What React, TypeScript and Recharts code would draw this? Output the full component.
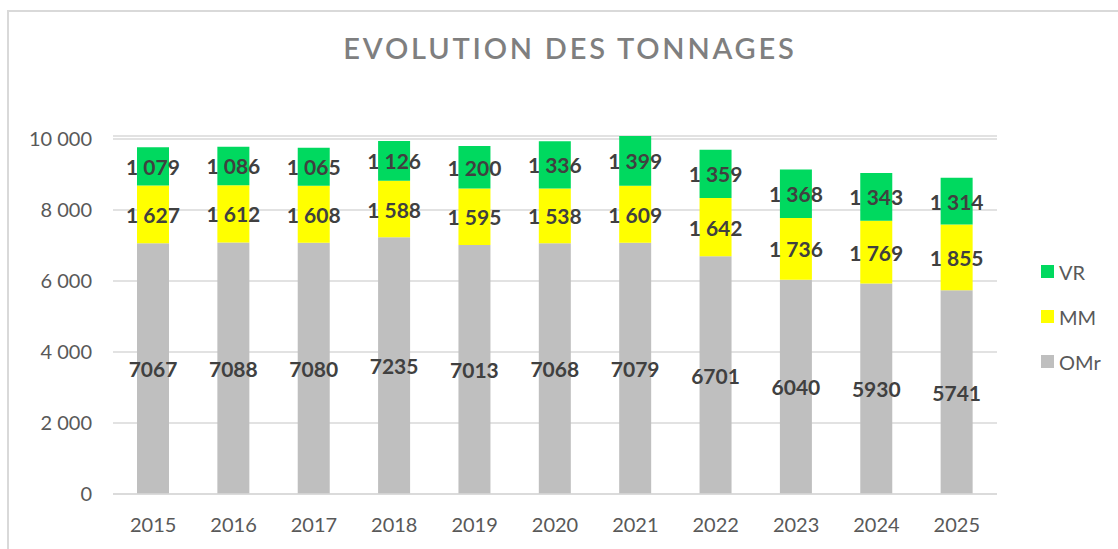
import { BarChart, Bar, XAxis, YAxis, CartesianGrid, LabelList } from "recharts";

const years = ["2015", "2016", "2017", "2018", "2019", "2020", "2021", "2022", "2023", "2024", "2025"];
const omrValues = [7067, 7088, 7080, 7235, 7013, 7068, 7079, 6701, 6040, 5930, 5741];
const mmValues = [1627, 1612, 1608, 1588, 1595, 1538, 1609, 1642, 1736, 1769, 1855];
const vrValues = [1079, 1086, 1065, 1126, 1200, 1336, 1399, 1359, 1368, 1343, 1314];
const yTicks = [0, 2000, 4000, 6000, 8000, 10000];

const data = years.map((year, i) => ({
  year,
  OMr: omrValues[i],
  MM: mmValues[i],
  VR: vrValues[i],
}));

// legend order, top to bottom
const legendItems = [
  { name: "VR", color: "#00d95f" },
  { name: "MM", color: "#ffff00" },
  { name: "OMr", color: "#bfbfbf" },
];

const FONT = "Lato, 'Noto Sans', sans-serif";

// excel style thousands: "10 000"
const spaced = (v: any) => String(v).replace(/\B(?=(\d{3})+(?!\d))/g, " ");

const makeLabel = (withSpace: boolean) => (props: any) => {
  const { x, y, width, height, value } = props;
  return (
    <text
      x={x + width / 2}
      y={y + height / 2}
      textAnchor="middle"
      dominantBaseline="central"
      fontFamily={FONT}
      fontSize={21}
      fontWeight={700}
      fill="#404040"
    >
      {withSpace ? spaced(value) : value}
    </text>
  );
};

export default function App() {
  return (
    <div style={{ position: "absolute", left: 0, top: 0, width: 1118, height: 549, overflow: "hidden", background: "#fff" }}>
      <div style={{ position: "absolute", left: 8, top: 10, width: 1110, height: 2, background: "#d9d9d9" }} />
      <div style={{ position: "absolute", left: 7, top: 10, width: 2, height: 539, background: "#d9d9d9" }} />
      <div
        style={{
          position: "absolute",
          left: 0,
          top: 30,
          width: 1118,
          textAlign: "center",
          fontFamily: FONT,
          fontSize: 29,
          fontWeight: 600,
          letterSpacing: 2.8,
          color: "#7f7f7f",
          paddingLeft: 22,
          boxSizing: "border-box",
        }}
      >
        EVOLUTION DES TONNAGES
      </div>
      <div style={{ position: "absolute", left: 0, top: 0 }}>
        <BarChart
          width={1118}
          height={549}
          data={data}
          margin={{ top: 136, right: 121, left: 13, bottom: 25 }}
        >
          <CartesianGrid vertical={false} stroke="#d9d9d9" strokeWidth={1.5} />
          <XAxis
            dataKey="year"
            height={30}
            tickLine={false}
            axisLine={{ stroke: "#d9d9d9", strokeWidth: 1.5 }}
            tickMargin={18}
            tick={{ fontFamily: FONT, fontSize: 20, fill: "#595959" }}
          />
          <YAxis
            width={100}
            domain={[0, 10000]}
            ticks={yTicks}
            interval={0}
            axisLine={false}
            tickLine={false}
            tickMargin={15}
            tickFormatter={spaced}
            tick={{ fontFamily: FONT, fontSize: 20, fill: "#595959" }}
          />
          <Bar dataKey="OMr" stackId="a" fill="#bfbfbf" barSize={32} isAnimationActive={false}>
            <LabelList dataKey="OMr" content={makeLabel(false)} />
          </Bar>
          <Bar dataKey="MM" stackId="a" fill="#ffff00" barSize={32} isAnimationActive={false}>
            <LabelList dataKey="MM" content={makeLabel(true)} />
          </Bar>
          <Bar dataKey="VR" stackId="a" fill="#00d95f" barSize={32} isAnimationActive={false}>
            <LabelList dataKey="VR" content={makeLabel(true)} />
          </Bar>
        </BarChart>
      </div>
      <div style={{ position: "absolute", left: 1041, top: 249, fontFamily: FONT }}>
        {legendItems.map((item) => (
          <div key={item.name} style={{ display: "flex", alignItems: "center", height: 45 }}>
            <span style={{ display: "inline-block", width: 13, height: 13, background: item.color, marginRight: 5 }} />
            <span style={{ fontSize: 20, color: "#595959" }}>{item.name}</span>
          </div>
        ))}
      </div>
    </div>
  );
}
